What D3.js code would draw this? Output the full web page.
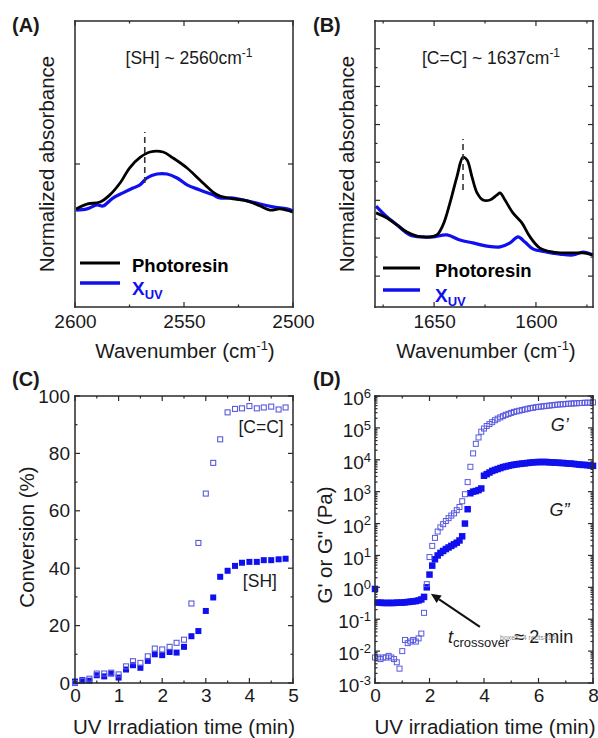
<!DOCTYPE html>
<html>
<head>
<meta charset="utf-8">
<script src="https://cdn.jsdelivr.net/npm/d3@7"></script>
<style>
body { margin: 0; background: #fff; }
svg { display: block; font-family: "Liberation Sans", Arial, sans-serif; }
</style>
</head>
<body>
<svg id="fig" width="598" height="738"></svg>
<script>
let errs = "";
window.addEventListener("error", e => { errs += " ERR:" + e.message + "@" + e.lineno; });

// ---- (A) S-H band, normalized absorbance
const shWave = [2599.5, 2594.5, 2588.5, 2584, 2579, 2575, 2570, 2565.6, 2559.6, 2555, 2548.6, 2542.7, 2536.7, 2533.5, 2527.5, 2521, 2515, 2510.5, 2506, 2500];
const shPhoto = [0.343, 0.360, 0.367, 0.392, 0.437, 0.486, 0.524, 0.542, 0.542, 0.521, 0.486, 0.444, 0.402, 0.388, 0.378, 0.371, 0.353, 0.339, 0.343, 0.332];
const shWaveUV = [2599.5, 2594.5, 2589.9, 2587.2, 2582.6, 2578, 2573.4, 2570.2, 2567, 2562.4, 2557.8, 2553.2, 2548.6, 2542.7, 2536.7, 2533.5, 2527.5, 2521.1, 2515.1, 2509.2, 2502.8, 2500];
const shUV = [0.339, 0.343, 0.357, 0.353, 0.381, 0.399, 0.416, 0.427, 0.451, 0.465, 0.465, 0.451, 0.427, 0.409, 0.392, 0.381, 0.381, 0.371, 0.360, 0.350, 0.343, 0.336];
const shMark = 2568;

// ---- (B) C=C band
const ccWave = [1678.5, 1673.1, 1668.2, 1663.3, 1658.4, 1652, 1648.6, 1645.6, 1642.2, 1638.8, 1635.8, 1633.8, 1631.4, 1628.9, 1626, 1622.6, 1619.1, 1617.6, 1615.2, 1611.3, 1606.9, 1602.9, 1598, 1591.6, 1584.8, 1576.9, 1572];
const ccPhoto = [0.329, 0.311, 0.287, 0.262, 0.248, 0.245, 0.252, 0.287, 0.364, 0.455, 0.524, 0.514, 0.455, 0.399, 0.374, 0.374, 0.392, 0.399, 0.374, 0.329, 0.294, 0.245, 0.206, 0.192, 0.189, 0.189, 0.182];
const ccWaveUV = [1678.5, 1673.1, 1668.2, 1661.8, 1655.4, 1650.5, 1643.7, 1637.3, 1630.9, 1624, 1617.6, 1612.7, 1608.8, 1605.4, 1601.5, 1594.6, 1588.2, 1581.8, 1576.9, 1572];
const ccUV = [0.353, 0.315, 0.287, 0.252, 0.245, 0.245, 0.252, 0.234, 0.224, 0.213, 0.210, 0.224, 0.245, 0.227, 0.203, 0.192, 0.185, 0.182, 0.192, 0.182];
const ccMark = 1635.8;
const ccYTicks = [0.108, 0.241, 0.373, 0.506, 0.638, 0.771, 0.903];

// ---- (C) conversion vs UV time
const convTime = [0, 0.17, 0.33, 0.5, 0.67, 0.83, 1.0, 1.17, 1.33, 1.5, 1.67, 1.83, 2.0, 2.17, 2.33, 2.5, 2.67, 2.83, 3.0, 3.17, 3.33, 3.5, 3.67, 3.83, 4.0, 4.17, 4.33, 4.5, 4.67, 4.83];
const convCC = [0, 0.7, 1.5, 3.3, 3.3, 3.6, 3.0, 5.8, 7.6, 7.0, 9.3, 12, 11.7, 12.6, 14, 15.1, 27.7, 48.8, 66, 76.7, 84.9, 94.3, 95.5, 95.7, 96.5, 95.7, 96, 96.3, 95.3, 96];
const convSH = [0.5, 1, 0.8, 2.7, 2.3, 3.3, 1.9, 4.7, 6.2, 5.3, 7.7, 10, 9.7, 10.8, 10.6, 12.6, 16.3, 18.1, 25.1, 29.8, 37, 39.1, 40.8, 41.9, 42.2, 42.2, 42.8, 42.8, 43.1, 43.3];

// ---- (D) rheology, log10 of modulus (Pa)
const rheoTime = [0, 0.1, 0.2, 0.3, 0.4, 0.5, 0.6, 0.7, 0.8, 0.9,
  1.0, 1.1, 1.2, 1.3, 1.4, 1.5, 1.6, 1.7, 1.8, 1.9,
  2.0, 2.1, 2.2, 2.3, 2.4, 2.5, 2.6, 2.7, 2.8, 2.9,
  3.0, 3.1, 3.2, 3.3, 3.4, 3.5, 3.6, 3.7, 3.8, 3.9,
  4.0, 4.1, 4.2, 4.3, 4.4, 4.5, 4.6, 4.7, 4.8, 4.9,
  5.0, 5.1, 5.2, 5.3, 5.4, 5.5, 5.6, 5.7, 5.8, 5.9,
  6.0, 6.1, 6.2, 6.3, 6.4, 6.5, 6.6, 6.7, 6.8, 6.9,
  7.0, 7.1, 7.2, 7.3, 7.4, 7.5, 7.6, 7.7, 7.8, 7.9, 8.0];
const gStorageLog = [-2.2, -2.2, -2.25, -2.2, -2.2, -2.15, -2.2, -2.25, -2.35, -2.55,
  -2.0, -1.65, -1.75, -1.7, -1.65, -1.7, -1.6, -1.45, -0.8, 0.1,
  0.95, 1.3, 1.55, 1.75, 1.88, 1.98, 2.08, 2.17, 2.25, 2.32,
  2.42, 2.52, 2.7, 2.92, 3.3, 3.78, 4.2, 4.5, 4.7, 4.88,
  4.98, 5.06, 5.12, 5.18, 5.24, 5.29, 5.33, 5.37, 5.41, 5.44,
  5.47, 5.5, 5.52, 5.54, 5.56, 5.58, 5.6, 5.62, 5.63, 5.65,
  5.66, 5.67, 5.68, 5.69, 5.7, 5.71, 5.72, 5.73, 5.74, 5.74,
  5.75, 5.76, 5.76, 5.77, 5.77, 5.78, 5.78, 5.79, 5.79, 5.79, 5.8];
const gLossLog = [-0.05, -0.48, -0.48, -0.49, -0.49, -0.49, -0.49, -0.49, -0.48, -0.48,
  -0.48, -0.47, -0.46, -0.45, -0.44, -0.43, -0.41, -0.38, -0.3, 0.0,
  0.4, 0.68, 0.88, 1.0, 1.08, 1.14, 1.2, 1.25, 1.3, 1.35,
  1.4, 1.47, 1.6, 2.0, 2.45, 2.95, 3.0, 3.02, 3.05, 3.1,
  3.5, 3.55, 3.6, 3.65, 3.68, 3.71, 3.74, 3.77, 3.79, 3.81,
  3.83, 3.845, 3.86, 3.87, 3.88, 3.89, 3.9, 3.91, 3.92, 3.925,
  3.93, 3.93, 3.93, 3.93, 3.92, 3.92, 3.91, 3.91, 3.9, 3.9,
  3.89, 3.88, 3.88, 3.87, 3.86, 3.85, 3.84, 3.84, 3.83, 3.82, 3.81];

const FONT = '"Liberation Sans", Arial, sans-serif';
const INK = "#1a1a1a";
const BLUE = "#1010ee";
const OPEN = "#5a5ae0";
const AXC = "#2a2a2a";
const PW = 218, PH = 286;

const svg = d3.select("#fig");
const boxSpecs = [];   // frames + ticks, drawn last

function makePanel(x0, y0) {
  return svg.append("g").attr("transform", `translate(${x0},${y0})`);
}

// tick labels only, through d3 axes
function tickLabels(g, gen, tx, ty, values, fmt, pad) {
  const sel = g.append("g").attr("transform", `translate(${tx},${ty})`)
    .call(gen.tickValues(values).tickSize(0).tickPadding(pad).tickFormat(fmt));
  sel.attr("font-family", FONT).attr("font-size", 19);
  sel.select(".domain").remove();
  sel.selectAll("line").remove();
  sel.selectAll("text").attr("fill", INK);
  return sel;
}

// frame and inward ticks as small filled rectangles placed with the scales
function boxSpec(x0, y0, h, x, y, xMaj, xMin, yMaj, yMin) {
  const r = [];
  const t = 1.5;
  r.push([-t / 2, -t / 2, PW + t, t], [-t / 2, h - t / 2, PW + t, t],
         [-t / 2, -t / 2, t, h + t], [PW - t / 2, -t / 2, t, h + t]);
  const tx = (vals, len) => vals.forEach(v => {
    const px = x(v);
    r.push([px - 0.6, h - len, 1.2, len], [px - 0.6, 0, 1.2, len]);
  });
  const ty = (vals, len) => vals.forEach(v => {
    const py = y(v);
    r.push([0, py - 0.6, len, 1.2], [PW - len, py - 0.6, len, 1.2]);
  });
  tx(xMaj, 5); tx(xMin, 2.5); ty(yMaj, 5); ty(yMin, 2.5);
  boxSpecs.push({ x0, y0, r });
}

function panelLabel(txt, x, y) {
  svg.append("text").attr("x", x).attr("y", y).attr("font-size", 20)
    .attr("font-weight", "bold").attr("fill", INK).text(txt);
}

function yTitle(x, y, txt) {
  return svg.append("text").attr("transform", `translate(${x},${y}) rotate(-90)`)
    .attr("text-anchor", "middle").attr("font-size", 20.5).attr("fill", INK).text(txt);
}

function wavenumberTitle(cx) {
  const t = svg.append("text").attr("x", cx).attr("y", 358).attr("text-anchor", "middle")
    .attr("font-size", 20.5).attr("fill", INK);
  t.append("tspan").text("Wavenumber (cm");
  t.append("tspan").attr("dy", -8).attr("font-size", 13).text("-1");
  t.append("tspan").attr("dy", 8).text(")");
}

function spectrum(g, x, y, title, wPh, vPh, wUV, vUV, mark, markY, legY, legX) {
  const line = d3.line().x(d => x(d[0])).y(d => y(d[1])).curve(d3.curveCatmullRom);
  g.append("path").datum(d3.zip(wUV, vUV)).attr("d", line)
    .attr("fill", "none").attr("stroke", BLUE).attr("stroke-width", 3.2);
  g.append("path").datum(d3.zip(wPh, vPh)).attr("d", line)
    .attr("fill", "none").attr("stroke", "#000").attr("stroke-width", 2.8);
  g.append("line").attr("x1", x(mark)).attr("x2", x(mark))
    .attr("y1", y(markY[0])).attr("y2", y(markY[1]))
    .attr("stroke", "#333").attr("stroke-width", 1.6).attr("stroke-dasharray", "6,4");
  const t = g.append("text").attr("x", title.x).attr("y", 43).attr("text-anchor", "middle")
    .attr("font-size", 17.5).attr("fill", INK);
  t.append("tspan").text(title.text);
  t.append("tspan").attr("dy", -7).attr("font-size", 12).text("-1");
  // legend
  g.append("line").attr("x1", legX[0]).attr("x2", legX[1]).attr("y1", legY[0]).attr("y2", legY[0])
    .attr("stroke", "#000").attr("stroke-width", 3);
  g.append("line").attr("x1", legX[0]).attr("x2", legX[1]).attr("y1", legY[1]).attr("y2", legY[1])
    .attr("stroke", BLUE).attr("stroke-width", 3.5);
  g.append("text").attr("x", legX[2]).attr("y", legY[0] + 9).attr("font-size", 18.5)
    .attr("font-weight", "bold").attr("fill", "#000").text("Photoresin");
  const xu = g.append("text").attr("x", legX[2]).attr("y", legY[1] + 12).attr("font-size", 19)
    .attr("font-weight", "bold").attr("fill", BLUE);
  xu.append("tspan").text("X");
  xu.append("tspan").attr("dy", 4).attr("font-size", 13).text("UV");
}

// ---------- (A)
{
  const g = makePanel(75, 21);
  const x = d3.scaleLinear().domain([2600, 2500]).range([0, PW]);
  const y = d3.scaleLinear().domain([0, 1]).range([PH, 0]);
  spectrum(g, x, y, { x: 114, text: "[SH] ~ 2560cm" }, shWave, shPhoto, shWaveUV, shUV,
    shMark, [0.434, 0.612], [242, 262], [5, 45, 57]);
  tickLabels(g, d3.axisBottom(x), 0, PH, [2600, 2550, 2500], d3.format("d"), 8);
  boxSpec(75, 21, PH, x, y, [2600, 2550, 2500], [2575, 2525], [0.5], []);
  panelLabel("(A)", 12, 32);
  yTitle(54, 164, "Normalized absorbance");
  wavenumberTitle(185);
}

// ---------- (B)
{
  const g = makePanel(375, 21);
  const x = d3.scaleLinear().domain([1679, 1572]).range([0, PW]);
  const y = d3.scaleLinear().domain([0, 1]).range([PH, 0]);
  spectrum(g, x, y, { x: 116, text: "[C=C] ~ 1637cm" }, ccWave, ccPhoto, ccWaveUV, ccUV,
    ccMark, [0.409, 0.587], [247, 269], [8, 45, 60]);
  const minorB = ccYTicks.slice(0, -1).map((v, i) => (v + ccYTicks[i + 1]) / 2);
  tickLabels(g, d3.axisBottom(x), 0, PH, [1650, 1600], d3.format("d"), 8);
  boxSpec(375, 21, PH, x, y, [1650, 1600], [1675, 1625, 1575], ccYTicks, minorB);
  panelLabel("(B)", 313, 32);
  yTitle(354, 164, "Normalized absorbance");
  wavenumberTitle(486);
}

// ---------- (C)
{
  const h = 287;
  const g = makePanel(75, 396);
  const x = d3.scaleLinear().domain([0, 5]).range([0, PW]);
  const y = d3.scaleLinear().domain([0, 100]).range([h, 0]);
  const s = 6;
  g.selectAll("rect.sh").data(d3.zip(convTime, convSH)).join("rect").attr("class", "sh")
    .attr("x", d => x(d[0]) - s / 2).attr("y", d => y(d[1]) - s / 2)
    .attr("width", s).attr("height", s).attr("fill", BLUE);
  g.selectAll("rect.cc").data(d3.zip(convTime, convCC)).join("rect").attr("class", "cc")
    .attr("x", d => x(d[0]) - s / 2 + 0.5).attr("y", d => y(d[1]) - s / 2 + 0.5)
    .attr("width", s - 1).attr("height", s - 1).attr("fill", "none")
    .attr("stroke", OPEN).attr("stroke-width", 1.1);
  tickLabels(g, d3.axisBottom(x), 0, h, [0, 1, 2, 3, 4, 5], d3.format("d"), 6);
  tickLabels(g, d3.axisLeft(y), 0, 0, [0, 20, 40, 60, 80, 100], d3.format("d"), 5);
  boxSpec(75, 396, h, x, y, [0, 1, 2, 3, 4, 5], [0.5, 1.5, 2.5, 3.5, 4.5],
    [0, 20, 40, 60, 80, 100], [10, 30, 50, 70, 90]);
  g.append("text").attr("x", x(3.75)).attr("y", y(87)).attr("font-size", 17.5).attr("fill", INK).text("[C=C]");
  g.append("text").attr("x", x(3.85)).attr("y", y(33.5)).attr("font-size", 17.5).attr("fill", INK).text("[SH]");
  panelLabel("(C)", 12, 386);
  yTitle(34, 537, "Conversion (%)");
  svg.append("text").attr("x", 184).attr("y", 734).attr("text-anchor", "middle")
    .attr("font-size", 20.5).attr("fill", INK).text("UV Irradiation time (min)");
}

// ---------- (D)
{
  const h = 287;
  const g = makePanel(375, 396);
  const x = d3.scaleLinear().domain([0, 8]).range([0, PW]);
  const y = d3.scaleLog().domain([1e-3, 1e6]).range([h, 0]);
  const sf = 6.5, so = 6;
  const loss = d3.zip(rheoTime, gLossLog.map(v => Math.pow(10, v)));
  const stor = d3.zip(rheoTime, gStorageLog.map(v => Math.pow(10, v)));
  g.selectAll("rect.gl").data(loss).join("rect").attr("class", "gl")
    .attr("x", d => x(d[0]) - sf / 2).attr("y", d => y(d[1]) - sf / 2)
    .attr("width", sf).attr("height", sf).attr("fill", BLUE);
  g.selectAll("rect.gs").data(stor).join("rect").attr("class", "gs")
    .attr("x", d => x(d[0]) - so / 2 + 0.5).attr("y", d => y(d[1]) - so / 2 + 0.5)
    .attr("width", so - 1).attr("height", so - 1).attr("fill", "none")
    .attr("stroke", OPEN).attr("stroke-width", 1);
  const decades = d3.range(-3, 7).map(e => Math.pow(10, e));
  const minorD = [];
  decades.slice(0, -1).forEach(d => { for (let k = 2; k <= 9; k++) minorD.push(k * d); });
  tickLabels(g, d3.axisBottom(x), 0, h, [0, 2, 4, 6, 8], d3.format("d"), 6);
  const ly = tickLabels(g, d3.axisLeft(y), 0, 0, decades, d => "", 4);
  ly.selectAll(".tick text").attr("dy", "0.45em").each(function (d) {
    const t = d3.select(this);
    t.append("tspan").text("10");
    t.append("tspan").attr("dy", "-0.55em").attr("font-size", 13).text(Math.round(Math.log10(d)));
  });
  boxSpec(375, 396, h, x, y, [0, 2, 4, 6, 8], [1, 3, 5, 7], decades, minorD);
  g.append("text").attr("x", x(6.45)).attr("y", y(Math.pow(10, 4.9))).attr("font-size", 18)
    .attr("font-style", "italic").attr("fill", INK).text("G\u2019");
  g.append("text").attr("x", x(6.4)).attr("y", y(Math.pow(10, 2.25))).attr("font-size", 18)
    .attr("font-style", "italic").attr("fill", INK).text("G\u201D");
  // crossover arrow with a drawn head
  const ax1 = x(3.85), ay1 = y(Math.pow(10, -1.24));
  const ax2 = x(2.05), ay2 = y(Math.pow(10, -0.2));
  const len = Math.hypot(ax2 - ax1, ay2 - ay1), ux = (ax2 - ax1) / len, uy = (ay2 - ay1) / len;
  const bx = ax2 - ux * 10, by = ay2 - uy * 10;
  g.append("line").attr("x1", ax1).attr("y1", ay1).attr("x2", bx).attr("y2", by)
    .attr("stroke", "#111").attr("stroke-width", 2);
  g.append("path")
    .attr("d", `M${ax2},${ay2}L${bx - uy * 4.5},${by + ux * 4.5}L${bx + uy * 4.5},${by - ux * 4.5}Z`)
    .attr("fill", "#111");
  const tc = g.append("text").attr("x", x(2.68)).attr("y", 247).attr("font-size", 18).attr("fill", INK);
  tc.append("tspan").attr("font-style", "italic").text("t");
  tc.append("tspan").attr("dy", 4).attr("font-size", 13).text("crossover");
  tc.append("tspan").attr("dy", -4).text(" \u2248 2 min");
  panelLabel("(D)", 313, 386);
  yTitle(332, 545, "G' or G\" (Pa)");
  svg.append("text").attr("x", 485).attr("y", 734).attr("text-anchor", "middle")
    .attr("font-size", 20.5).attr("fill", INK).text("UV irradiation time (min)");
}

// frames and ticks on top of everything
boxSpecs.forEach(b => {
  svg.append("g").attr("class", "box").attr("transform", `translate(${b.x0},${b.y0})`)
    .selectAll("rect").data(b.r).join("rect")
    .attr("x", d => d[0]).attr("y", d => d[1]).attr("width", d => d[2]).attr("height", d => d[3])
    .attr("fill", AXC);
});

// diagnostics
const gb = document.querySelector("g.box");
const info = "boxes=" + document.querySelectorAll("g.box").length +
  " rects=" + (gb ? gb.querySelectorAll("rect").length : -1) + errs;
svg.append("text").attr("x", 500).attr("y", 640).attr("font-size", 7).attr("fill", "#888").text(info);
</script>
</body>
</html>
